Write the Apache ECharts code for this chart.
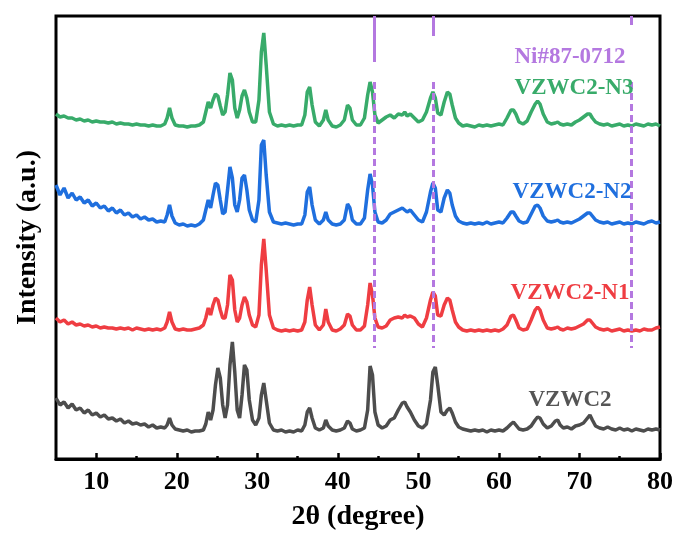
<!DOCTYPE html>
<html>
<head>
<meta charset="utf-8">
<script src="https://cdn.jsdelivr.net/npm/echarts@6/dist/echarts.min.js"></script>
<style>
  html, body { margin: 0; padding: 0; background: #fff; }
  #dom { width: 678px; height: 536px; }
</style>
</head>
<body>
<div id="dom"></div>
<script type="text/javascript">
// 2theta grid shared by all patterns
var twoTheta = [5, 5.5, 6, 6.5, 7, 7.5, 8, 8.5, 9, 9.5,
  10, 10.5, 11, 11.5, 12, 12.5, 13, 13.5, 14, 14.5,
  15, 15.5, 16, 16.5, 17, 17.5, 18, 18.5, 18.8, 19.1,
  19.4, 19.8, 20.3, 20.8, 21.3, 21.8, 22.3, 22.8, 23.3, 23.6,
  23.9, 24.2, 24.5, 24.8, 25.1, 25.4, 25.7, 26.0, 26.3, 26.6,
  26.9, 27.2, 27.5, 27.8, 28.1, 28.4, 28.7, 29.0, 29.4, 29.8,
  30.2, 30.5, 30.8, 31.1, 31.5, 32, 32.5, 33, 33.5, 34,
  34.5, 35, 35.5, 35.9, 36.2, 36.5, 36.8, 37.2, 37.7, 38.2,
  38.5, 38.8, 39.3, 39.8, 40.3, 40.8, 41.2, 41.5, 41.8, 42.3,
  42.8, 43.3, 43.7, 44.0, 44.3, 44.6, 45.0, 45.5, 46.0, 46.5,
  47.0, 47.5, 48.0, 48.3, 48.6, 49.0, 49.5, 50.0, 50.5, 51.0,
  51.5, 51.8, 52.1, 52.4, 52.8, 53.2, 53.6, 53.9, 54.2, 54.6,
  55.0, 55.5, 56, 56.5, 57, 57.5, 58, 58.5, 59, 59.5,
  60, 60.5, 61, 61.5, 61.8, 62.1, 62.5, 63, 63.5, 64,
  64.5, 64.8, 65.1, 65.5, 66, 66.5, 67, 67.3, 67.6, 68,
  68.5, 69, 69.5, 70, 70.5, 71, 71.3, 71.6, 72, 72.5,
  73, 73.5, 74, 74.5, 75, 75.5, 76, 76.5, 77, 77.5,
  78, 78.5, 79, 79.5, 80];

// intensities (stacked with offsets, arbitrary units)
var vzwc2 = [61, 54, 57, 51, 55, 49, 51, 46, 49, 44,
  46, 42, 44, 40, 41, 38, 40, 36, 38, 35,
  36, 34, 35, 32, 34, 31, 32, 31, 34, 41,
  34, 30, 29, 28, 29, 27, 28, 28, 29, 35,
  47, 39, 49, 74, 91, 81, 54, 41, 54, 94,
  117, 87, 49, 41, 64, 94, 89, 59, 39, 34,
  41, 64, 76, 59, 36, 29, 28, 29, 27, 28,
  27, 29, 28, 34, 47, 51, 41, 31, 29, 31,
  39, 33, 29, 28, 29, 31, 38, 36, 30, 28,
  29, 31, 49, 93, 84, 47, 34, 31, 33, 39,
  41, 49, 56, 57, 52, 47, 39, 33, 31, 35,
  59, 87, 92, 74, 47, 44, 49, 51, 46, 37,
  32, 30, 29, 28, 29, 28, 29, 27, 29, 28,
  29, 28, 31, 35, 37, 34, 30, 29, 30, 33,
  39, 42, 41, 35, 31, 33, 38, 39, 34, 31,
  32, 30, 33, 34, 36, 41, 44, 39, 33, 31,
  30, 32, 30, 29, 31, 29, 30, 28, 30, 29,
  28, 30, 29, 30, 29];

var vzwc2N1 = [141, 137, 139, 135, 137, 134, 135, 133, 134, 132,
  133, 131, 132, 131, 131, 130, 131, 130, 131, 129,
  131, 130, 129, 130, 129, 130, 129, 131, 137, 147,
  137, 130, 129, 130, 129, 129, 130, 131, 134, 141,
  151, 144, 154, 161, 159, 149, 141, 141, 154, 184,
  179, 149, 137, 141, 154, 162, 157, 144, 134, 132,
  144, 194, 220, 189, 144, 131, 129, 128, 129, 128,
  129, 128, 129, 137, 159, 172, 154, 134, 129, 134,
  150, 137, 129, 128, 130, 134, 145, 143, 134, 129,
  129, 133, 154, 176, 164, 141, 132, 131, 133, 139,
  141, 142, 141, 144, 142, 143, 141, 135, 132, 141,
  159, 167, 163, 144, 143, 154, 161, 159, 149, 137,
  132, 129, 128, 129, 128, 129, 128, 129, 128, 129,
  128, 130, 134, 143, 144, 139, 131, 129, 130, 139,
  149, 152, 149, 139, 131, 130, 131, 132, 130, 129,
  131, 130, 131, 133, 135, 139, 139, 136, 132, 130,
  129, 130, 128, 129, 130, 128, 129, 128, 129, 128,
  130, 129, 129, 131, 132];

var vzwc2N2 = [274, 264, 271, 261, 266, 259, 262, 256, 259, 253,
  256, 251, 253, 248, 251, 246, 249, 244, 246, 242,
  244, 240, 242, 239, 240, 237, 238, 237, 244, 254,
  243, 236, 234, 235, 233, 234, 233, 235, 239, 249,
  259, 251, 264, 276, 274, 259, 245, 247, 269, 292,
  281, 254, 247, 259, 281, 284, 269, 249, 239, 237,
  259, 314, 319, 284, 247, 237, 236, 235, 236, 235,
  234, 235, 235, 244, 267, 272, 254, 239, 235, 239,
  247, 239, 235, 234, 235, 239, 255, 251, 239, 235,
  235, 241, 269, 285, 274, 247, 237, 236, 239, 245,
  247, 249, 251, 249, 247, 249, 244, 239, 237, 247,
  267, 276, 271, 249, 247, 261, 269, 266, 254, 243,
  238, 236, 235, 236, 235, 236, 235, 237, 235, 236,
  237, 236, 241, 247, 247, 243, 238, 236, 237, 245,
  253, 254, 251, 243, 238, 237, 238, 239, 237, 236,
  237, 236, 238, 240, 243, 246, 246, 243, 239, 237,
  236, 237, 235, 236, 237, 235, 236, 235, 237, 236,
  235, 237, 238, 236, 237];

var vzwc2N3 = [345, 342, 343, 341, 341, 339, 340, 338, 339, 337,
  338, 337, 337, 336, 337, 335, 336, 335, 335, 334,
  335, 334, 334, 333, 334, 333, 333, 335, 341, 351,
  341, 334, 333, 333, 332, 333, 333, 334, 337, 347,
  357, 351, 359, 365, 363, 353, 344, 347, 364, 386,
  379, 351, 341, 349, 363, 369, 361, 347, 337, 337,
  359, 407, 426, 394, 347, 335, 333, 334, 333, 334,
  333, 334, 334, 344, 367, 372, 354, 337, 333, 339,
  349, 339, 333, 332, 334, 339, 354, 351, 339, 334,
  334, 341, 364, 377, 367, 344, 336, 339, 342, 344,
  341, 345, 344, 347, 343, 345, 341, 337, 339, 347,
  361, 367, 361, 346, 344, 357, 367, 365, 354, 341,
  336, 333, 334, 333, 332, 334, 333, 334, 333, 334,
  335, 334, 341, 349, 349, 345, 337, 335, 338, 347,
  355, 358, 355, 345, 337, 335, 336, 337, 335, 334,
  335, 334, 337, 339, 342, 345, 345, 341, 337, 335,
  334, 335, 333, 334, 335, 333, 334, 333, 335, 334,
  333, 335, 334, 335, 333];

var seriesNames = ['VZWC2', 'VZWC2-N1', 'VZWC2-N2', 'VZWC2-N3'];
var seriesColors = ['#4d4d4d', '#ef3d42', '#1f6fde', '#38ab6a'];

// Ni#87-0712 reference peaks
var niPeaks = [44.5, 51.8, 76.4];
var niCapBottom = [397, 423, 434];
var niTop = 443, niDashTop = 377, niDashBottom = 111;
var niColor = '#b478e0';

var majorTicks = [10, 20, 30, 40, 50, 60, 70, 80];
var minorTicks = [15, 25, 35, 45, 55, 65, 75];

var fontFamily = '"Times New Roman", "Liberation Serif", serif';

function pairs(ys) {
    return twoTheta.map(function (x, i) { return [x, ys[i]]; });
}

var dom = document.getElementById('dom');
var myChart = echarts.init(dom);

var niLines = [];
niPeaks.forEach(function (p, i) {
    niLines.push([{coord: [p, niTop], lineStyle: {type: 'solid'}}, {coord: [p, niCapBottom[i]]}]);
    niLines.push([{coord: [p, niDashTop], lineStyle: {type: [7, 4]}}, {coord: [p, niDashBottom]}]);
});

var series = [vzwc2, vzwc2N1, vzwc2N2, vzwc2N3].map(function (d, i) {
    return {
        name: seriesNames[i],
        type: 'line',
        data: pairs(d),
        symbol: 'none',
        lineStyle: {color: seriesColors[i], width: 3.5},
        itemStyle: {color: seriesColors[i]},
        animation: false
    };
});
series.push({
    name: 'Ni#87-0712',
    type: 'line',
    data: [],
    symbol: 'none',
    animation: false,
    markLine: {
        silent: true,
        symbol: ['none', 'none'],
        label: {show: false},
        lineStyle: {color: niColor, width: 3},
        animation: false,
        data: niLines
    }
});

var labels = [
    {text: 'Ni#87-0712', x: 570, y: 57, color: niColor},
    {text: 'VZWC2-N3', x: 574, y: 88, color: seriesColors[3]},
    {text: 'VZWC2-N2', x: 572, y: 192, color: seriesColors[2]},
    {text: 'VZWC2-N1', x: 570, y: 293, color: seriesColors[1]},
    {text: 'VZWC2', x: 570, y: 400, color: '#555555'}
];

var option = {
    backgroundColor: '#fff',
    animation: false,
    grid: {
        left: 56, right: 18, top: 16, bottom: 77,
        show: true, borderColor: '#000', borderWidth: 3
    },
    xAxis: [{
        type: 'value',
        min: 5, max: 80,
        position: 'bottom',
        name: '2θ (degree)',
        nameLocation: 'middle',
        nameGap: 44,
        nameTextStyle: {fontFamily: fontFamily, fontWeight: 'bold', fontSize: 28, color: '#000'},
        axisLine: {show: true, lineStyle: {color: '#000', width: 3}},
        axisTick: {show: true, inside: true, length: 6, customValues: majorTicks, lineStyle: {color: '#000', width: 2.5}},
        axisLabel: {customValues: majorTicks, margin: 10, fontFamily: fontFamily, fontWeight: 'bold', fontSize: 26, color: '#000'},
        splitLine: {show: false}
    }, {
        type: 'value',
        min: 5, max: 80,
        position: 'bottom',
        axisLine: {show: false},
        axisTick: {show: true, inside: true, length: 3, customValues: minorTicks, lineStyle: {color: '#000', width: 2.5}},
        axisLabel: {show: false},
        splitLine: {show: false}
    }],
    yAxis: {
        type: 'value',
        min: 0, max: 443,
        name: 'Intensity (a.u.)',
        nameLocation: 'middle',
        nameGap: 14,
        nameTextStyle: {fontFamily: fontFamily, fontWeight: 'bold', fontSize: 28, color: '#000'},
        axisLine: {show: false},
        axisTick: {show: false},
        axisLabel: {show: false},
        splitLine: {show: false}
    },
    graphic: labels.map(function (l) {
        return {
            type: 'text',
            x: l.x, y: l.y,
            z: 100,
            style: {
                text: l.text,
                fill: l.color,
                font: 'bold 23px ' + fontFamily,
                textAlign: 'center',
                textVerticalAlign: 'middle'
            }
        };
    }),
    series: series
};
myChart.setOption(option, true);
</script>
</body>
</html>
